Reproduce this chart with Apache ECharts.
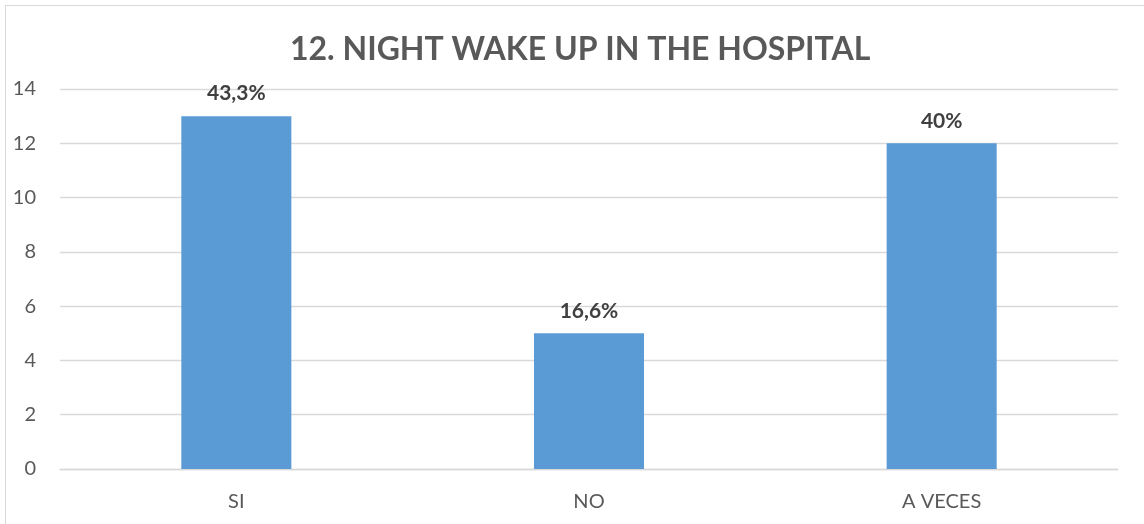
<!DOCTYPE html>
<html>
<head>
<meta charset="utf-8">
<script src="https://cdn.jsdelivr.net/npm/echarts@6/dist/echarts.min.js"></script>
<style>
  html, body { margin: 0; padding: 0; background: #ffffff; }
  #frame { position: absolute; left: 5px; top: 5px; width: 1150px; height: 530px;
           border: 1px solid #d9d9d9; box-sizing: border-box; }
  #chart { position: absolute; left: 0; top: 0; width: 1144px; height: 524px; }
</style>
</head>
<body>
<div id="frame"></div>
<div id="chart"></div>
<script>
// Survey answers: how often patients wake up at night in the hospital
const categories = ['SI', 'NO', 'A VECES'];
const counts = [13, 5, 12];
const percentLabels = ['43,3%', '16,6%', '40%'];
const yTicks = { min: 0, max: 14, interval: 2 };

const FONT = 'Lato, "Open Sans", sans-serif';

const chart = echarts.init(document.getElementById('chart'), null, { renderer: 'canvas' });
chart.setOption({
  animation: false,
  backgroundColor: 'transparent',
  title: {
    text: '12. NIGHT WAKE UP IN THE HOSPITAL',
    left: 285,
    top: 29,
    textStyle: { fontFamily: FONT, fontSize: 32, fontWeight: 'bold', color: '#595959' }
  },
  grid: { left: 60, right: 26, top: 89, bottom: 55, containLabel: false },
  xAxis: {
    type: 'category',
    data: categories,
    axisLine: { show: true, lineStyle: { color: '#d9d9d9', width: 1.3 } },
    axisTick: { show: false },
    axisLabel: { fontFamily: FONT, fontSize: 20, color: '#595959', margin: 23 }
  },
  yAxis: {
    type: 'value',
    min: yTicks.min,
    max: yTicks.max,
    interval: yTicks.interval,
    axisLine: { show: false },
    axisTick: { show: false },
    splitLine: { lineStyle: { color: '#d9d9d9', width: 1.3 } },
    axisLabel: { fontFamily: FONT, fontSize: 20, color: '#595959', margin: 24 }
  },
  series: [{
    type: 'bar',
    data: counts,
    barWidth: '31.2%',
    itemStyle: { color: '#5b9bd5' },
    label: {
      show: true,
      position: 'top',
      distance: 12,
      formatter: p => percentLabels[p.dataIndex],
      fontFamily: FONT,
      fontSize: 21,
      fontWeight: 'bold',
      color: '#404040'
    }
  }]
});
</script>
</body>
</html>
